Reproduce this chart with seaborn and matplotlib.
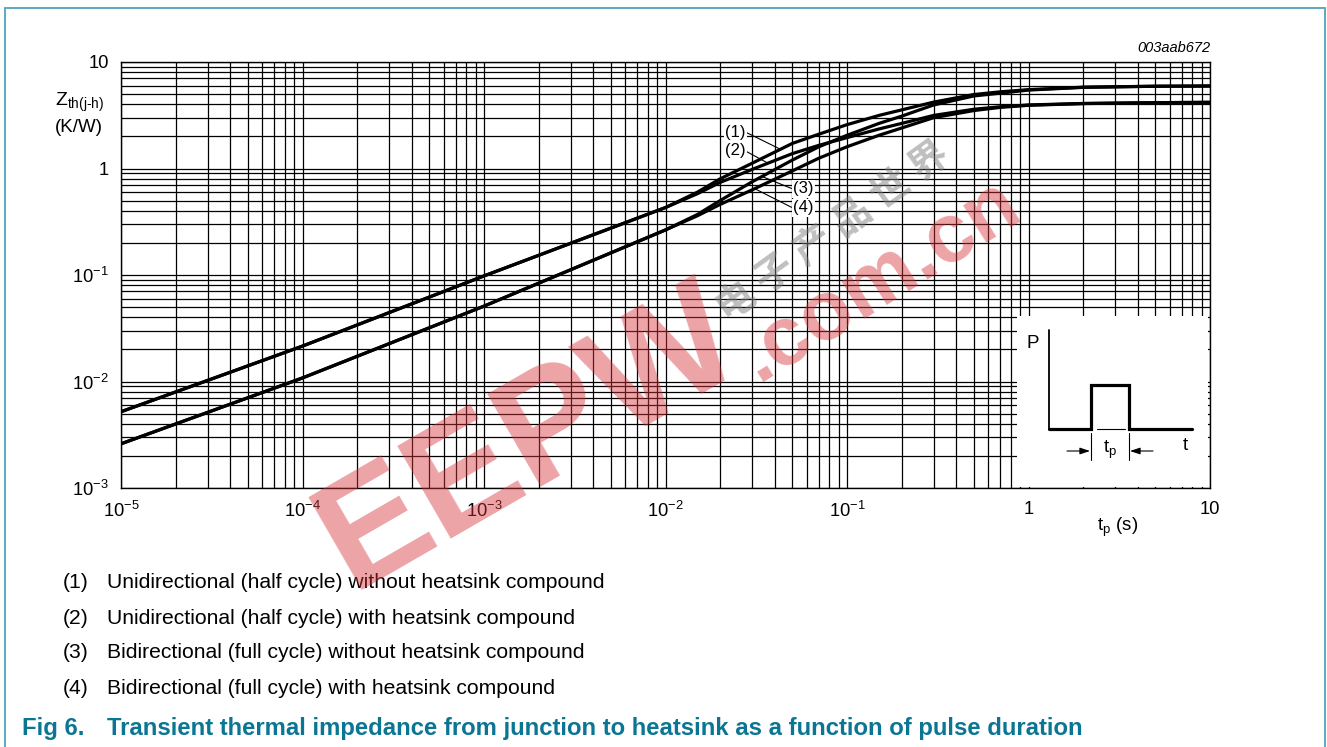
import numpy as np
import pandas as pd
import matplotlib
matplotlib.use("Agg")
import matplotlib.pyplot as plt
import seaborn as sns
from matplotlib.lines import Line2D
from matplotlib.patches import Rectangle
from matplotlib.ticker import FixedLocator, FixedFormatter, LogLocator, NullFormatter

# ---------------- data ----------------
t_shared = [1e-5, 1e-4, 1e-3, 1e-2]
upper_shared = [0.0052, 0.0215, 0.098, 0.43]
lower_shared = [0.0026, 0.0108, 0.051, 0.265]

t_split = [0.015, 0.02, 0.03, 0.05, 0.07, 0.1, 0.15, 0.2, 0.3, 0.5, 0.7, 1, 2, 5, 10]
z1 = [0.60, 0.80, 1.12, 1.72, 2.10, 2.58, 3.15, 3.55, 4.20, 4.95, 5.25, 5.50, 5.80, 5.92, 5.95]
z2 = [0.58, 0.74, 0.98, 1.38, 1.65, 1.95, 2.35, 2.65, 3.15, 3.60, 3.80, 3.95, 4.08, 4.15, 4.18]
z3 = [0.37, 0.50, 0.75, 1.20, 1.60, 2.05, 2.65, 3.10, 3.95, 4.80, 5.10, 5.45, 5.78, 5.92, 5.95]
z4 = [0.36, 0.46, 0.63, 0.95, 1.25, 1.60, 2.05, 2.40, 3.00, 3.50, 3.75, 3.92, 4.07, 4.15, 4.18]

curve_names = ["(1)", "(2)", "(3)", "(4)"]
curve_start = [upper_shared, upper_shared, lower_shared, lower_shared]
curve_split = [z1, z2, z3, z4]
label_t = [0.043, 0.0367, 0.034, 0.031]

x_ticks = [1e-5, 1e-4, 1e-3, 1e-2, 1e-1, 1, 10]
x_tick_labels = [r"$\mathregular{10^{-5}}$", r"$\mathregular{10^{-4}}$", r"$\mathregular{10^{-3}}$",
                 r"$\mathregular{10^{-2}}$", r"$\mathregular{10^{-1}}$", "1", "10"]
y_ticks = [1e-3, 1e-2, 1e-1, 1, 10]
y_tick_labels = [r"$\mathregular{10^{-3}}$", r"$\mathregular{10^{-2}}$", r"$\mathregular{10^{-1}}$", "1", "10"]

legend_lines = [
    "Unidirectional (half cycle) without heatsink compound",
    "Unidirectional (half cycle) with heatsink compound",
    "Bidirectional (full cycle) without heatsink compound",
    "Bidirectional (full cycle) with heatsink compound",
]
caption_num = "Fig 6."
caption_text = "Transient thermal impedance from junction to heatsink as a function of pulse duration"

rows = []
for name, s, sp in zip(curve_names, curve_start, curve_split):
    for t, z in zip(t_shared + t_split, list(s) + list(sp)):
        rows.append({"t": t, "Z": z, "curve": name})
df = pd.DataFrame(rows)

# ---------------- style ----------------
sns.set_style("white")
plt.rcParams["font.family"] = ["Liberation Sans", "DejaVu Sans"]
plt.rcParams["text.color"] = "black"
plt.rcParams["mathtext.fontset"] = "custom"
plt.rcParams["mathtext.rm"] = "Liberation Sans"
plt.rcParams["mathtext.it"] = "Liberation Sans:italic"
plt.rcParams["mathtext.bf"] = "Liberation Sans:bold"

W, H = 1327, 747
fig = plt.figure(figsize=(W / 100, H / 100), dpi=100)
fig.patch.set_facecolor("white")

def fx(px):
    return px / W

def fy(py):
    return 1 - py / H

L, R, T, B = 121, 1210, 62, 488
ax = fig.add_axes([fx(L), fy(B), fx(R) - fx(L), fy(T) - fy(B)])
ax.set_xscale("log")
ax.set_yscale("log")

sns.lineplot(data=df, x="t", y="Z", hue="curve", palette=["black"] * 4, legend=False,
             linewidth=2.3, estimator=None, sort=True, ax=ax, zorder=3)

ax.set_xlim(1e-5, 10)
ax.set_ylim(1e-3, 10)
ax.xaxis.set_major_locator(FixedLocator(x_ticks))
ax.xaxis.set_major_formatter(FixedFormatter(x_tick_labels))
ax.yaxis.set_major_locator(FixedLocator(y_ticks))
ax.yaxis.set_major_formatter(FixedFormatter(y_tick_labels))
ax.xaxis.set_minor_locator(LogLocator(base=10, subs=np.arange(2, 10), numticks=20))
ax.yaxis.set_minor_locator(LogLocator(base=10, subs=np.arange(2, 10), numticks=20))
ax.xaxis.set_minor_formatter(NullFormatter())
ax.yaxis.set_minor_formatter(NullFormatter())
ax.tick_params(which="both", length=0, labelsize=13.2, colors="black")
ax.tick_params(axis="x", pad=9)
ax.tick_params(axis="y", pad=9)
ax.grid(True, which="both", color="black", linewidth=0.9)
ax.set_axisbelow(True)
for sp in ax.spines.values():
    sp.set_color("black")
    sp.set_linewidth(1.0)
ax.set_xlabel("")
ax.set_ylabel("")

# curve labels with leaders
label_pos = [(0.0242, 2.2), (0.0242, 1.46), (0.0573, 0.642), (0.0573, 0.426)]
for i, (name, s, sp) in enumerate(zip(curve_names, curve_start, curve_split)):
    tt = np.log10(np.array(t_shared + t_split))
    zz = np.log10(np.array(list(s) + list(sp)))
    target = (label_t[i], 10 ** np.interp(np.log10(label_t[i]), tt, zz))
    left_side = i < 2
    ax.annotate(name, xy=target, xytext=label_pos[i], textcoords="data",
                ha="center", va="center", fontsize=12, color="black", zorder=4,
                bbox=dict(boxstyle="square,pad=0.08", fc="white", ec="none"),
                arrowprops=dict(arrowstyle="-", lw=0.8, color="black",
                                relpos=(1, 0.5) if left_side else (0, 0.5),
                                shrinkA=0, shrinkB=0))

# inset pulse diagram (white box covering the grid)
ix0 = (1017 - L) / (R - L)
ih = (B - 317) / (B - T)
ax.add_patch(Rectangle((ix0, 0.002), 1 - ix0 - 0.0015, ih, transform=ax.transAxes,
                       facecolor="white", edgecolor="none", zorder=2.2))
ins = ax.inset_axes([ix0, 0, 1 - ix0, ih])
ins.set_xlim(0, 193)
ins.set_ylim(0, 171)
ins.axis("off")
ins.patch.set_alpha(0)
ins.plot([32, 32], [59, 158], color="black", lw=1.3)
ins.plot([32, 74, 74, 112, 112, 175], [59, 59, 103, 103, 59, 59], color="black", lw=2.3,
         solid_joinstyle="miter")
ins.plot([80, 108], [59.5, 59.5], color="black", lw=0.8)
ins.plot([74, 74], [28, 55], color="black", lw=0.8)
ins.plot([112, 112], [28, 55], color="black", lw=0.8)
ins.annotate("", xy=(73, 37), xytext=(50, 37),
             arrowprops=dict(arrowstyle="-|>,head_length=0.6,head_width=0.2", lw=0.8, color="black",
                             shrinkA=0, shrinkB=0))
ins.annotate("", xy=(113, 37), xytext=(136, 37),
             arrowprops=dict(arrowstyle="-|>,head_length=0.6,head_width=0.2", lw=0.8, color="black",
                             shrinkA=0, shrinkB=0))
ins.text(16, 145, "P", fontsize=13.5, ha="center", va="center")
ins.text(168, 43, "t", fontsize=13.5, ha="center", va="center")
ins.text(93, 38, r"t$_{\mathregular{p}}$", fontsize=13.5, ha="center", va="center")

# axis titles
fig.text(fx(79), fy(102), r"Z$_{\mathregular{th(j\text{-}h)}}$", fontsize=14, ha="center", va="center")
fig.text(fx(79), fy(127), "(K/W)", fontsize=13.5, ha="center", va="center")
fig.text(fx(1118), fy(527), r"t$_{\mathregular{p}}$ (s)", fontsize=13.5, ha="center", va="center")
fig.text(fx(1210), fy(48), "003aab672", fontsize=10.5, style="italic", ha="right", va="center")

# legend lines
for i, line in enumerate(legend_lines):
    y = 583 + 35 * i
    fig.text(fx(63), fy(y), f"({i + 1})", fontsize=15.2, ha="left", va="center")
    fig.text(fx(107), fy(y), line, fontsize=15.2, ha="left", va="center")

teal = "#0b7594"
fig.text(fx(22), fy(729), caption_num, fontsize=17.2, fontweight="bold", color=teal, ha="left", va="center")
fig.text(fx(107), fy(729), caption_text, fontsize=17.2, fontweight="bold", color=teal, ha="left", va="center")

# frame
frame_c = "#5da9c1"
fig.add_artist(Line2D([fx(5), fx(5)], [0, fy(8)], transform=fig.transFigure, color=frame_c, lw=1.4))
fig.add_artist(Line2D([fx(5), fx(1325)], [fy(8), fy(8)], transform=fig.transFigure, color=frame_c, lw=1.4))
fig.add_artist(Line2D([fx(1325), fx(1325)], [fy(8), 0], transform=fig.transFigure, color=frame_c, lw=1.4))

# watermark
fig.text(fx(530), fy(440), "EEPW", fontsize=112, fontweight="heavy", color="#d8343c", alpha=0.45,
         rotation=30, ha="center", va="center", zorder=10)
fig.text(fx(880), fy(280), ".com.cn", fontsize=60, fontweight="heavy", color="#d8343c", alpha=0.45,
         rotation=32, ha="center", va="center", zorder=10)
fig.text(fx(833), fy(232), "电 子 产 品 世 界", fontsize=28, color="#808080", alpha=0.5,
         rotation=36, ha="center", va="center", zorder=10,
         family=["Noto Sans CJK SC", "DejaVu Sans"], fontweight="bold")

fig.savefig("out.png", dpi=100, facecolor="white")
